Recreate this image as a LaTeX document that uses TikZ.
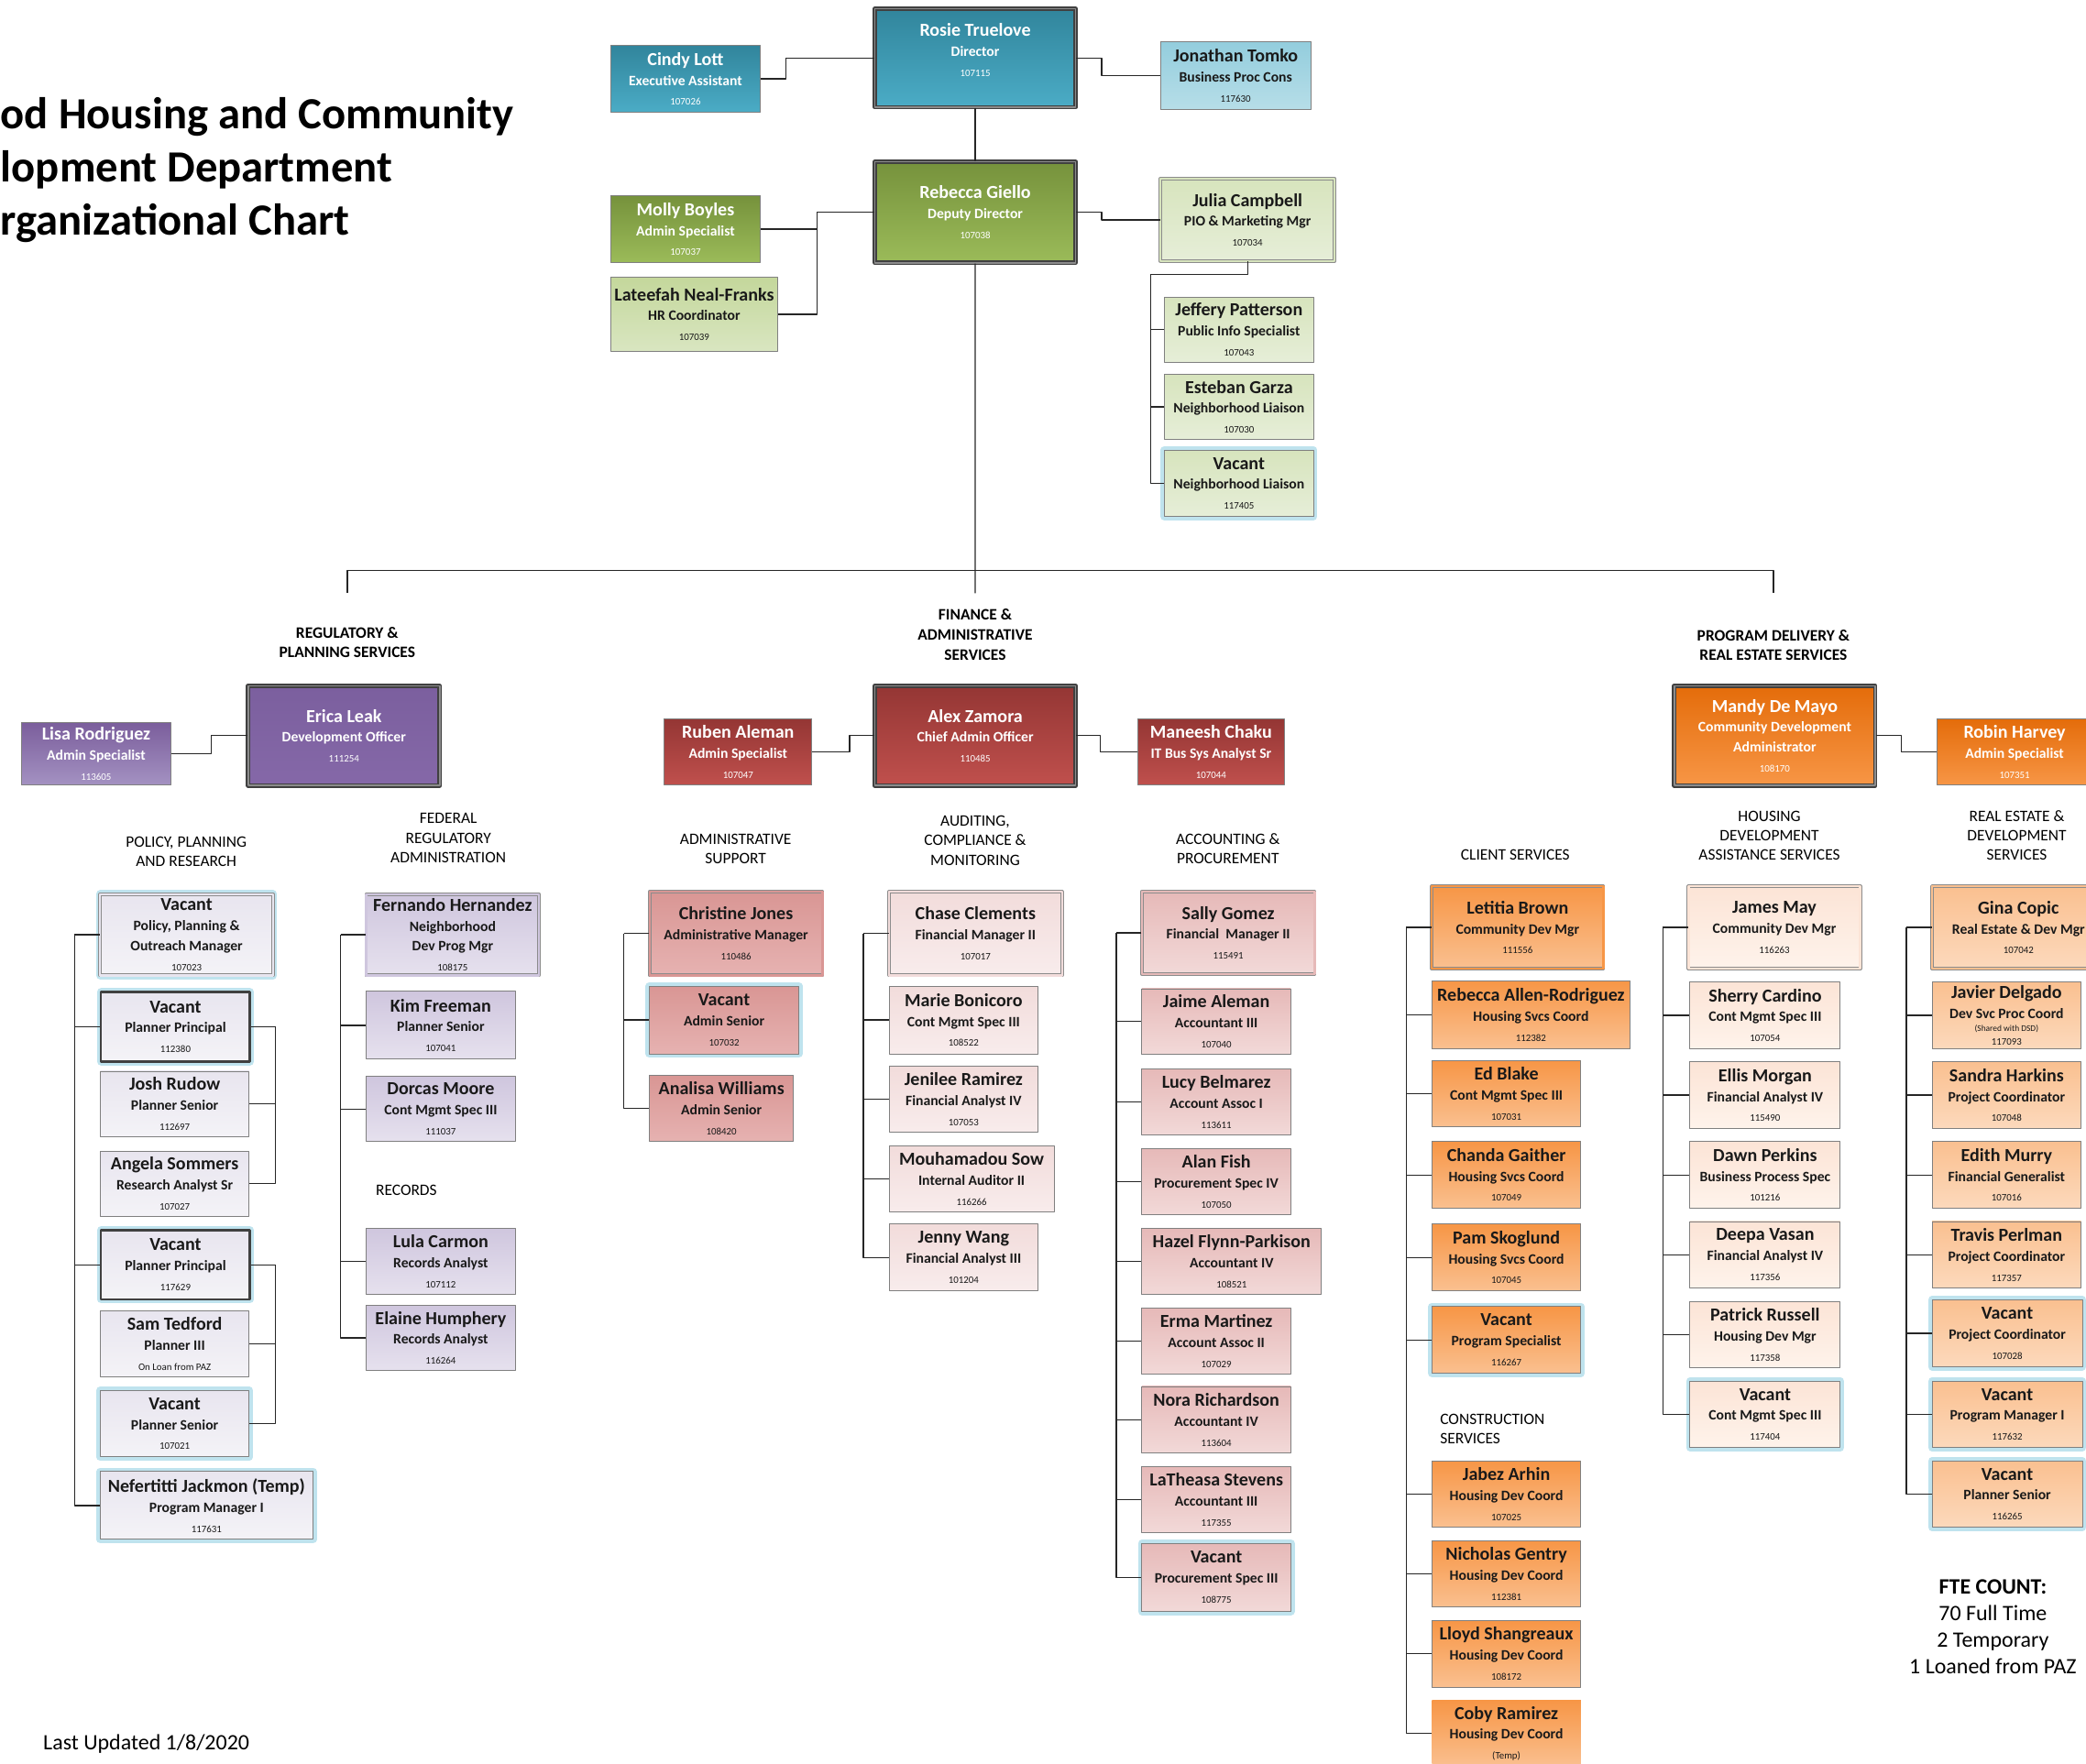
\documentclass[tikz,border=0pt]{standalone}
\usepackage{fontspec}
\setmainfont{Carlito}
\definecolor{tealA}{HTML}{31859C}\definecolor{tealB}{HTML}{4BACC6}
\definecolor{skyA}{HTML}{93CDDD}\definecolor{skyB}{HTML}{B7DEE8}
\definecolor{grnA}{HTML}{76923C}\definecolor{grnB}{HTML}{9BBB59}
\definecolor{sageA}{HTML}{D7E4BD}\definecolor{sageB}{HTML}{E6EED8}
\definecolor{mossA}{HTML}{C4D79B}\definecolor{mossB}{HTML}{D9E6C1}
\definecolor{plumA}{HTML}{7B5F9E}\definecolor{plumB}{HTML}{8568A8}
\definecolor{lilacA}{HTML}{7B5E9C}\definecolor{lilacB}{HTML}{A492C2}
\definecolor{lavA}{HTML}{CFC6DE}\definecolor{lavB}{HTML}{E6E1EE}
\definecolor{mistA}{HTML}{E8E5EF}\definecolor{mistB}{HTML}{F4F3F7}
\definecolor{redA}{HTML}{943634}\definecolor{redB}{HTML}{C0504D}
\definecolor{roseA}{HTML}{D99694}\definecolor{roseB}{HTML}{E6B2B1}
\definecolor{blushA}{HTML}{F2DCDB}\definecolor{blushB}{HTML}{F8ECEC}
\definecolor{pinkA}{HTML}{E6B9B8}\definecolor{pinkB}{HTML}{F2D9D8}
\definecolor{ornA}{HTML}{E46C0A}\definecolor{ornB}{HTML}{F79646}
\definecolor{tanA}{HTML}{F79646}\definecolor{tanB}{HTML}{FAC090}
\definecolor{cremeA}{HTML}{FCE4D6}\definecolor{cremeB}{HTML}{FEF3EB}
\definecolor{apriA}{HTML}{FAC090}\definecolor{apriB}{HTML}{FCD9BC}
\definecolor{glow}{HTML}{BFE3EE}
\begin{document}
\begin{tikzpicture}[x=1pt,y=-1pt,line join=round,
  link/.style={draw=black!85,line width=0.9pt},
  card/.style={draw=black!50,line width=0.6pt,anchor=north west,align=center,inner sep=1pt,
    minimum width=112pt,minimum height=50pt,text=black!90,font=\fontsize{13.8}{15}\selectfont\bfseries},
  lead/.style={double=#1,double distance=1.6pt,line width=0.5pt,draw=black!45},
  chief/.style={draw=black!75,line width=1.1pt,double=black!45,double distance=1.1pt,text=white},
  vac/.style={preaction={draw=glow,line width=6pt}},
  heavy/.style={draw=black!75,line width=1.8pt},
  director/.style={top color=tealA,bottom color=tealB,text=white},
  bizcons/.style={top color=skyA,bottom color=skyB},
  deputy/.style={top color=grnA,bottom color=grnB,text=white},
  pio/.style={top color=sageA,bottom color=sageB},
  hr/.style={top color=mossA,bottom color=mossB},
  regul/.style={top color=plumA,bottom color=plumB,text=white},
  regaide/.style={top color=lilacA,bottom color=lilacB,text=white},
  federal/.style={top color=lavA,bottom color=lavB},
  policy/.style={top color=mistA,bottom color=mistB},
  finance/.style={top color=redA,bottom color=redB,text=white},
  adminsup/.style={top color=roseA,bottom color=roseB},
  audit/.style={top color=blushA,bottom color=blushB},
  acct/.style={top color=pinkA,bottom color=pinkB},
  program/.style={top color=ornA,bottom color=ornB,text=white},
  client/.style={top color=tanA,bottom color=tanB},
  housing/.style={top color=cremeA,bottom color=cremeB},
  realty/.style={top color=apriA,bottom color=apriB},
  sec/.style={align=center,font=\fontsize{12}{15}\selectfont\bfseries},
  unit/.style={align=center,font=\fontsize{12}{14.5}\selectfont}]
\def\jt#1{{\fontsize{10.8}{15}\selectfont #1}}
\def\pn#1{{\fontsize{7.5}{15}\selectfont\mdseries #1}}
\useasboundingbox (0,0) rectangle (1568,1326);
\clip (0,0) rectangle (1568,1326);

% title and notes
\node[anchor=west,align=left,font=\fontsize{33.5}{40}\selectfont\bfseries] (title) at (-3,128)
  {od Housing and Community\\lopment Department\\rganizational Chart};
\node[anchor=west,font=\fontsize{16.5}{20}\selectfont] (updated) at (29,1311) {Last Updated 1/8/2020};
\node[align=center,font=\fontsize{16.5}{20}\selectfont] (fte) at (1498,1223)
  {\textbf{FTE COUNT:}\\70 Full Time\\2 Temporary\\1 Loaned from PAZ};

% director's office
\node[card,chief,director,minimum width=151pt,minimum height=74pt,text depth=12pt] (rosie) at (657,6) {Rosie Truelove\\\jt{Director}\\\pn{107115}};
\node[card,director] (cindy) at (459,34) {Cindy Lott\\\jt{Executive Assistant}\\\pn{107026}};
\node[card,bizcons,minimum width=113pt,minimum height=51pt] (jonathan) at (872,31) {Jonathan Tomko\\\jt{Business Proc Cons}\\\pn{117630}};
\node[card,chief,deputy,minimum width=151pt,minimum height=76pt] (rebecca) at (657,121) {Rebecca Giello\\\jt{Deputy Director}\\\pn{107038}};
\node[card,deputy] (molly) at (459,147) {Molly Boyles\\\jt{Admin Specialist}\\\pn{107037}};
\node[card,hr,minimum width=125pt,minimum height=56pt] (lateefah) at (459,208) {Lateefah Neal-Franks\\\jt{HR Coordinator}\\\pn{107039}};
\node[card,pio,lead=sageA,minimum width=131pt,minimum height=62pt] (julia) at (872,134) {Julia Campbell\\\jt{PIO \& Marketing Mgr}\\\pn{107034}};
\node[card,pio,minimum height=49pt] (jeffery) at (875,223) {Jeffery Patterson\\\jt{Public Info Specialist}\\\pn{107043}};
\node[card,pio,minimum height=49pt] (esteban) at (875,281) {Esteban Garza\\\jt{Neighborhood Liaison}\\\pn{107030}};
\node[card,pio,vac] (vacnl) at (875,338) {Vacant\\\jt{Neighborhood Liaison}\\\pn{117405}};

\draw[link] (cindy.east) -- ++(19,0) |- (rosie.west);
\draw[link] (rosie.east) -- ++(19,0) |- (jonathan.west);
\draw[link] (rosie.south) -- (rebecca.north);
\draw[link] (rebecca.west) -- ++(-43,0) coordinate (dd);
\foreach \c in {molly,lateefah} \draw[link] (dd) |- (\c.east);
\draw[link] (rebecca.east) -- ++(19,0) |- (julia.west);
\draw[link] (julia.south) -- ++(0,10) -| ([xshift=-10pt]vacnl.west) -- (vacnl.west);
\foreach \c in {jeffery,esteban} \draw[link] (\c.west) -- ++(-10,0);

% trunk to the three divisions
\coordinate (regdrop) at (261,446);
\coordinate (findrop) at (733,446);
\coordinate (prodrop) at (1333,446);
\draw[link] (rebecca.south) -- (findrop);
\draw[link] (regdrop) -- ++(0,-17) -| (prodrop);
\node[sec] (regtitle) at (261,483) {REGULATORY \&\\PLANNING SERVICES};
\node[sec] (fintitle) at (733,477) {FINANCE \&\\ADMINISTRATIVE\\SERVICES};
\node[sec] (protitle) at (1333,485) {PROGRAM DELIVERY \&\\REAL ESTATE SERVICES};

% division heads
\node[card,chief,regul,minimum width=144pt,minimum height=75pt] (erica) at (186,515) {Erica Leak\\\jt{Development Officer}\\\pn{111254}};
\node[card,regaide,minimum height=47pt] (lisa) at (16,543) {Lisa Rodriguez\\\jt{Admin Specialist}\\\pn{113605}};
\node[card,chief,finance,minimum width=151pt,minimum height=75pt] (alex) at (657,515) {Alex Zamora\\\jt{Chief Admin Officer}\\\pn{110485}};
\node[card,finance,minimum width=111pt] (ruben) at (499,540) {Ruben Aleman\\\jt{Admin Specialist}\\\pn{107047}};
\node[card,finance,minimum width=110pt] (maneesh) at (855,540) {Maneesh Chaku\\\jt{IT Bus Sys Analyst Sr}\\\pn{107044}};
\node[card,chief,program,minimum width=151pt,minimum height=75pt] (mandy) at (1258,515) {Mandy De Mayo\\\jt{Community Development}\\\jt{Administrator}\\\pn{108170}};
\node[card,program,minimum width=116pt] (robin) at (1456,540) {Robin Harvey\\\jt{Admin Specialist}\\\pn{107351}};
\draw[link] (lisa.east) -- ++(30,0) |- (erica.west);
\draw[link] (ruben.east) -- ++(28,0) |- (alex.west);
\draw[link] (alex.east) -- ++(18,0) |- (maneesh.west);
\draw[link] (mandy.east) -- ++(19,0) |- (robin.west);

% unit labels
\node[unit] (polhead) at (140,640) {POLICY, PLANNING\\AND RESEARCH};
\node[unit] (fedhead) at (337,630) {FEDERAL\\REGULATORY\\ADMINISTRATION};
\node[unit,anchor=west] (rechead) at (279,895) {RECORDS};
\node[unit] (admhead) at (553,638) {ADMINISTRATIVE\\SUPPORT};
\node[unit] (audhead) at (733,632) {AUDITING,\\COMPLIANCE \&\\MONITORING};
\node[unit] (acchead) at (923,638) {ACCOUNTING \&\\PROCUREMENT};
\node[unit] (clihead) at (1139,643) {CLIENT SERVICES};
\node[unit,anchor=west,align=left] (conhead) at (1079,1074) {CONSTRUCTION\\SERVICES};
\node[unit] (houhead) at (1330,628) {HOUSING\\DEVELOPMENT\\ASSISTANCE SERVICES};
\node[unit] (reahead) at (1516,628) {REAL ESTATE \&\\DEVELOPMENT\\SERVICES};

% policy, planning and research
\node[card,policy,lead=mistA,vac,minimum width=130pt,minimum height=61pt] (vppom) at (75,672) {Vacant\\\jt{Policy, Planning \&}\\\jt{Outreach Manager}\\\pn{107023}};
\node[card,policy,vac,heavy,minimum height=52pt] (vpp1) at (75,745) {Vacant\\\jt{Planner Principal}\\\pn{112380}};
\node[card,policy,minimum height=49pt] (josh) at (75,805) {Josh Rudow\\\jt{Planner Senior}\\\pn{112697}};
\node[card,policy,minimum height=49pt] (angela) at (75,865) {Angela Sommers\\\jt{Research Analyst Sr}\\\pn{107027}};
\node[card,policy,vac,heavy,minimum height=52pt] (vpp2) at (75,924) {Vacant\\\jt{Planner Principal}\\\pn{117629}};
\node[card,policy] (sam) at (75,985) {Sam Tedford\\\jt{Planner III}\\\pn{On Loan from PAZ}};
\node[card,policy,vac] (vps) at (75,1045) {Vacant\\\jt{Planner Senior}\\\pn{107021}};
\node[card,policy,vac,minimum width=160pt,minimum height=51pt] (nef) at (75,1106) {Nefertitti Jackmon (Temp)\\\jt{Program Manager I}\\\pn{117631}};
\draw[link] (vppom.west) -- ++(-19,0) coordinate (ppr);
\foreach \c in {vpp1,vpp2,nef} \draw[link] (ppr) |- (\c.west);
\draw[link] (vpp1.east) -- ++(18,0) coordinate (pp1);
\foreach \c in {josh,angela} \draw[link] (pp1) |- (\c.east);
\draw[link] (vpp2.east) -- ++(18,0) coordinate (pp2);
\foreach \c in {sam,vps} \draw[link] (pp2) |- (\c.east);

% federal regulatory administration and records
\node[card,federal,lead=lavA,minimum width=130pt,minimum height=61pt] (fernando) at (275,672) {Fernando Hernandez\\\jt{Neighborhood}\\\jt{Dev Prog Mgr}\\\pn{108175}};
\node[card,federal,minimum height=51pt] (kim) at (275,745) {Kim Freeman\\\jt{Planner Senior}\\\pn{107041}};
\node[card,federal,minimum height=49pt] (dorcas) at (275,809) {Dorcas Moore\\\jt{Cont Mgmt Spec III}\\\pn{111037}};
\node[card,federal] (lula) at (275,923) {Lula Carmon\\\jt{Records Analyst}\\\pn{107112}};
\node[card,federal,minimum height=49pt] (elaine) at (275,981) {Elaine Humphery\\\jt{Records Analyst}\\\pn{116264}};
\draw[link] (fernando.west) -- ++(-19,0) coordinate (fra);
\foreach \c in {kim,dorcas,lula,elaine} \draw[link] (fra) |- (\c.west);

% administrative support
\node[card,adminsup,lead=roseA,minimum width=130pt,minimum height=63pt] (christine) at (488,670) {Christine Jones\\\jt{Administrative Manager}\\\pn{110486}};
\node[card,adminsup,vac,minimum height=51pt] (vas) at (488,741) {Vacant\\\jt{Admin Senior}\\\pn{107032}};
\node[card,adminsup,minimum width=108pt] (analisa) at (488,808) {Analisa Williams\\\jt{Admin Senior}\\\pn{108420}};
\draw[link] (christine.west) -- ++(-19,0) coordinate (asp);
\foreach \c in {vas,analisa} \draw[link] (asp) |- (\c.west);

% auditing, compliance and monitoring
\node[card,audit,lead=blushA,minimum width=130pt,minimum height=63pt] (chase) at (668,670) {Chase Clements\\\jt{Financial Manager II}\\\pn{107017}};
\node[card,audit,minimum height=51pt] (marie) at (668,741) {Marie Bonicoro\\\jt{Cont Mgmt Spec III}\\\pn{108522}};
\node[card,audit] (jenilee) at (668,801) {Jenilee Ramirez\\\jt{Financial Analyst IV}\\\pn{107053}};
\node[card,audit,minimum width=124pt] (mouhamadou) at (668,861) {Mouhamadou Sow\\\jt{Internal Auditor II}\\\pn{116266}};
\node[card,audit] (jenny) at (668,920) {Jenny Wang\\\jt{Financial Analyst III}\\\pn{101204}};
\draw[link] (chase.west) -- ++(-19,0) coordinate (acm);
\foreach \c in {marie,jenilee,mouhamadou,jenny} \draw[link] (acm) |- (\c.west);

% accounting and procurement
\node[card,acct,lead=pinkA,minimum width=130pt,minimum height=62pt] (sally) at (858,670) {Sally Gomez\\\jt{Financial\ \ Manager II}\\\pn{115491}};
\node[card,acct,minimum height=49pt] (jaime) at (858,743) {Jaime Aleman\\\jt{Accountant III}\\\pn{107040}};
\node[card,acct] (lucy) at (858,803) {Lucy Belmarez\\\jt{Account Assoc I}\\\pn{113611}};
\node[card,acct] (alan) at (858,863) {Alan Fish\\\jt{Procurement Spec IV}\\\pn{107050}};
\node[card,acct,minimum width=135pt] (hazel) at (858,923) {Hazel Flynn-Parkison\\\jt{Accountant IV}\\\pn{108521}};
\node[card,acct] (erma) at (858,983) {Erma Martinez\\\jt{Account Assoc II}\\\pn{107029}};
\node[card,acct] (nora) at (858,1042) {Nora Richardson\\\jt{Accountant IV}\\\pn{113604}};
\node[card,acct] (latheasa) at (858,1102) {LaTheasa Stevens\\\jt{Accountant III}\\\pn{117355}};
\node[card,acct,vac,minimum height=51pt] (vps3) at (858,1160) {Vacant\\\jt{Procurement Spec III}\\\pn{108775}};
\draw[link] (sally.west) -- ++(-19,0) coordinate (acp);
\foreach \c in {jaime,lucy,alan,hazel,erma,nora,latheasa,vps3} \draw[link] (acp) |- (\c.west);

% client services and construction services
\node[card,client,lead=tanA,minimum width=129pt,minimum height=62pt] (letitia) at (1076,666) {Letitia Brown\\\jt{Community Dev Mgr}\\\pn{111556}};
\node[card,client,minimum width=149pt,minimum height=51pt] (rar) at (1076,737) {Rebecca Allen-Rodriguez\\\jt{Housing Svcs Coord}\\\pn{112382}};
\node[card,client] (ed) at (1076,797) {Ed Blake\\\jt{Cont Mgmt Spec III}\\\pn{107031}};
\node[card,client] (chanda) at (1076,858) {Chanda Gaither\\\jt{Housing Svcs Coord}\\\pn{107049}};
\node[card,client] (pam) at (1076,920) {Pam Skoglund\\\jt{Housing Svcs Coord}\\\pn{107045}};
\node[card,client,vac] (vpsp) at (1076,982) {Vacant\\\jt{Program Specialist}\\\pn{116267}};
\node[card,client] (jabez) at (1076,1098) {Jabez Arhin\\\jt{Housing Dev Coord}\\\pn{107025}};
\node[card,client] (nicholas) at (1076,1158) {Nicholas Gentry\\\jt{Housing Dev Coord}\\\pn{112381}};
\node[card,client] (lloyd) at (1076,1218) {Lloyd Shangreaux\\\jt{Housing Dev Coord}\\\pn{108172}};
\node[card,client,draw=none] (coby) at (1076,1278) {Coby Ramirez\\\jt{Housing Dev Coord}\\\pn{(Temp)}};
\draw[link] (letitia.west) -- ++(-19,0) coordinate (cls);
\foreach \c in {rar,ed,chanda,pam,vpsp,jabez,nicholas,lloyd,coby} \draw[link] (cls) |- (\c.west);

% housing development assistance services
\node[card,housing,lead=cremeA,minimum width=129pt,minimum height=62pt] (james) at (1269,666) {James May\\\jt{Community Dev Mgr}\\\pn{116263}};
\node[card,housing,minimum width=113pt] (sherry) at (1270,738) {Sherry Cardino\\\jt{Cont Mgmt Spec III}\\\pn{107054}};
\node[card,housing,minimum width=113pt] (ellis) at (1270,798) {Ellis Morgan\\\jt{Financial Analyst IV}\\\pn{115490}};
\node[card,housing,minimum width=113pt] (dawn) at (1270,858) {Dawn Perkins\\\jt{Business Process Spec}\\\pn{101216}};
\node[card,housing,minimum width=113pt] (deepa) at (1270,918) {Deepa Vasan\\\jt{Financial Analyst IV}\\\pn{117356}};
\node[card,housing,minimum width=113pt] (patrick) at (1270,978) {Patrick Russell\\\jt{Housing Dev Mgr}\\\pn{117358}};
\node[card,housing,vac,minimum width=113pt] (vcms) at (1270,1038) {Vacant\\\jt{Cont Mgmt Spec III}\\\pn{117404}};
\draw[link] (james.west) -- ++(-19,0) coordinate (hda);
\foreach \c in {sherry,ellis,dawn,deepa,patrick,vcms} \draw[link] (hda) |- (\c.west);

% real estate and development services
\node[card,realty,lead=apriA,minimum width=130pt,minimum height=62pt] (gina) at (1452,666) {Gina Copic\\\jt{Real Estate \& Dev Mgr}\\\pn{107042}};
\node[card,realty] (javier) at (1452,738) {Javier Delgado\\\jt{Dev Svc Proc Coord}\\[-5pt]{\fontsize{6.5}{10}\selectfont\mdseries (Shared with DSD)}\\[-5pt]\pn{117093}};
\node[card,realty] (sandra) at (1452,798) {Sandra Harkins\\\jt{Project Coordinator}\\\pn{107048}};
\node[card,realty] (edith) at (1452,858) {Edith Murry\\\jt{Financial Generalist}\\\pn{107016}};
\node[card,realty] (travis) at (1452,918) {Travis Perlman\\\jt{Project Coordinator}\\\pn{117357}};
\node[card,realty,vac,minimum width=113pt] (vpc) at (1452,977) {Vacant\\\jt{Project Coordinator}\\\pn{107028}};
\node[card,realty,vac,minimum width=113pt] (vpm) at (1452,1038) {Vacant\\\jt{Program Manager I}\\\pn{117632}};
\node[card,realty,vac,minimum width=113pt] (vpls) at (1452,1098) {Vacant\\\jt{Planner Senior}\\\pn{116265}};
\draw[link] (gina.west) -- ++(-19,0) coordinate (red);
\foreach \c in {javier,sandra,edith,travis,vpc,vpm,vpls} \draw[link] (red) |- (\c.west);
\end{tikzpicture}
\end{document}
